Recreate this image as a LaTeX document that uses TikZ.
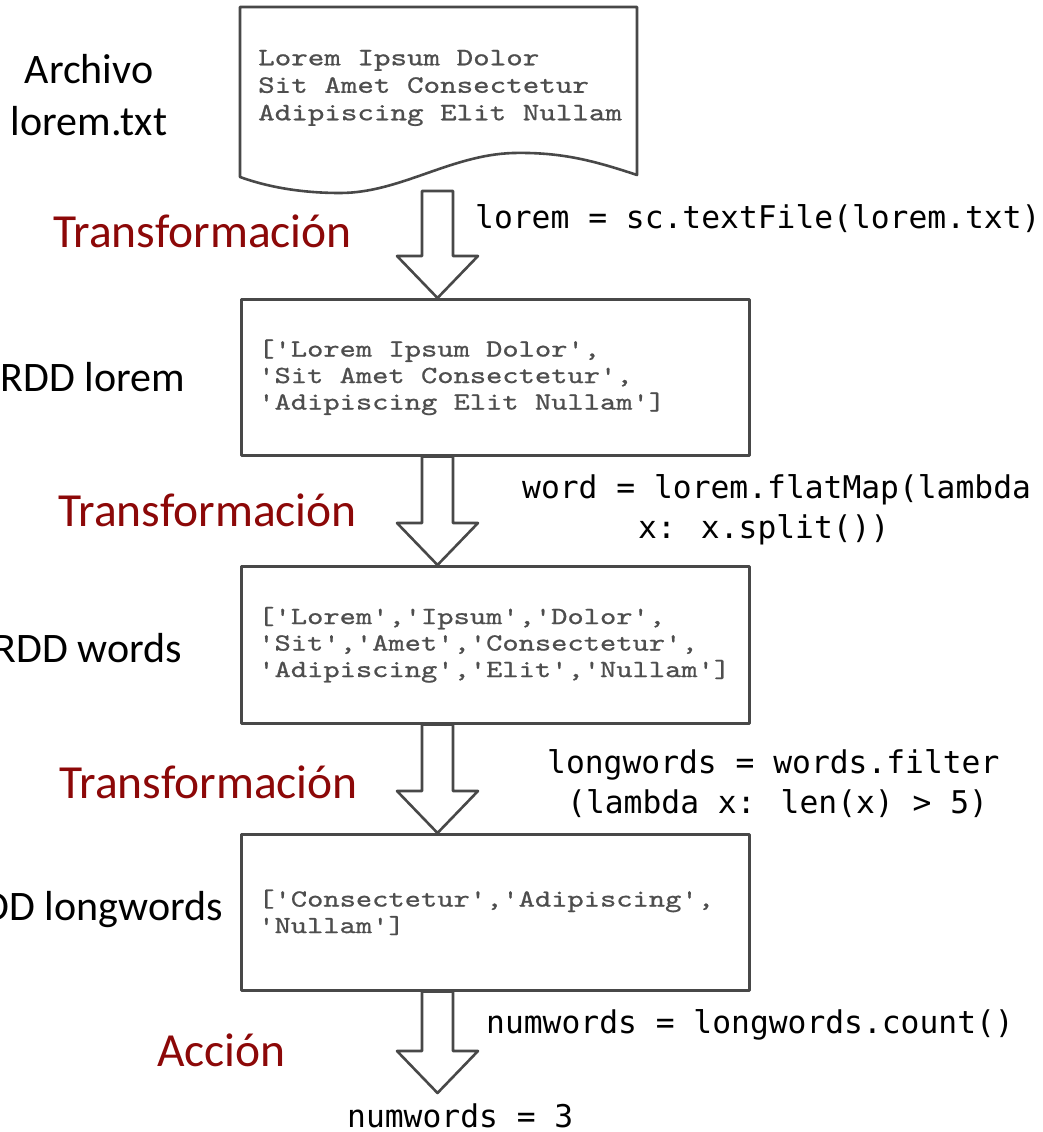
\documentclass[tikz,border=0pt]{standalone}
\usepackage{fontspec}
\setmonofont{lmmono10-regular.otf}[FakeStretch=1.26,FakeBold=0.8]
\newfontfamily\labelfont{Carlito}
\newfontfamily\codefont{DejaVu Sans Mono}
\usetikzlibrary{calc}

\definecolor{edge}{RGB}{72,72,72}
\definecolor{listing}{RGB}{78,78,78}
\definecolor{stage}{RGB}{140,8,8}

% one full monospace cell, used as the word space in listings
\newcommand\cellgap{\phantom{x}}

\tikzset{
  outline/.style={draw=edge, line width=2.6pt, line join=round},
  rdd/.style={outline, fill=white, anchor=north west, minimum height=156pt,
    text width=474pt, inner xsep=17pt, inner ysep=0pt, align=left,
    text=listing, font=\ttfamily\fontsize{24.6}{26.5}\selectfont},
  listingtext/.style={inner sep=0pt, align=left, text=listing,
    font=\ttfamily\fontsize{25}{27.5}\selectfont},
  rddlabel/.style={inner sep=0pt, anchor=base, font=\labelfont\fontsize{42}{52}\selectfont},
  stagelabel/.style={inner sep=0pt, anchor=base east, text=stage,
    font=\labelfont\fontsize{47.5}{56}\selectfont},
  codeline/.style={inner sep=0pt, anchor=base west,
    font=\codefont\fontsize{31.3}{40}\selectfont},
  flowshape/.style={outline, fill=white},
}

% hollow block arrow from #1 (top of shaft) to #2 (tip)
\newcommand\flowarrow[2]{%
  \draw[flowshape] let \p1=(#1), \p2=(#2) in
    ({\x1-15.5pt},\y1) -- ({\x1-15.5pt},{\y2+42pt}) -- ({\x1-40.5pt},{\y2+42pt})
    -- (\x2,\y2) -- ({\x1+40.5pt},{\y2+42pt}) -- ({\x1+15.5pt},{\y2+42pt})
    -- ({\x1+15.5pt},\y1) -- cycle;}

\begin{document}
\begin{tikzpicture}[x=1pt,y=-1pt]
\useasboundingbox (0,0) rectangle (1043,1132);

% source file drawn as a document sheet with a wavy foot
\draw[outline, fill=white] (240,7) -- (637,7) -- (637,175)
  .. controls (592,160) and (560,152) .. (513,153)
  .. controls (450,155) and (400,193) .. (340,193)
  .. controls (298,193) and (265,186) .. (240,177) -- cycle;
\node[listingtext, anchor=west] (doctext) at (258,88)
  {Lorem\cellgap Ipsum\cellgap Dolor\\Sit\cellgap Amet\cellgap Consectetur\\Adipiscing\cellgap Elit\cellgap Nullam};

% RDD boxes
\node[rdd] (b2) at (240,298)
  {['Lorem\cellgap Ipsum\cellgap Dolor',\\'Sit\cellgap Amet\cellgap Consectetur',\\'Adipiscing\cellgap Elit\cellgap Nullam']};
\node[rdd, minimum height=157pt] (b3) at (240,565)
  {['Lorem','Ipsum','Dolor',\\'Sit','Amet','Consectetur',\\'Adipiscing','Elit','Nullam']};
\node[rdd] (b4) at (240,833)
  {['Consectetur','Adipiscing',\\'Nullam']};

% arrow axis and free ends
\coordinate (axis) at (437.5,0);
\coordinate (docfoot) at (437.5,191);
\coordinate (tip) at (437.5,1093);

\flowarrow{docfoot}{b2.north -| axis}
\flowarrow{b2.south -| axis}{b3.north -| axis}
\flowarrow{b3.south -| axis}{b4.north -| axis}
\flowarrow{b4.south -| axis}{tip}

% left-hand names
\node[rddlabel] (nfile1) at (89,83) {Archivo};
\node[rddlabel] (nfile2) at (89,135) {lorem.txt};
\node[rddlabel] (nlorem) at (93,391) {RDD lorem};
\node[rddlabel] (nwords) at (88,662) {RDD words};
\node[rddlabel] (nlong) at (92,920) {RDD longwords};

% operation kinds
\node[stagelabel] (s1) at (352,247) {Transformación};
\node[stagelabel] (s2) at (357,526) {Transformación};
\node[stagelabel] (s3) at (358,798) {Transformación};
\node[stagelabel] (s4) at (286,1066) {Acción};

% code
\node[codeline] (c1) at (475,228) {lorem = sc.textFile(lorem.txt)};
\node[codeline] (c2a) at (522,498) {word = lorem.flatMap(lambda};
\node[codeline] (c2b) at (638,538) {x: x.split())};
\node[codeline] (c3a) at (547,773) {longwords = words.filter};
\node[codeline] (c3b) at (567,813) {(lambda x: len(x) > 5)};
\node[codeline] (c4) at (486,1033) {numwords = longwords.count()};
\node[codeline] (res) at (347,1127) {numwords = 3};
\end{tikzpicture}
\end{document}
